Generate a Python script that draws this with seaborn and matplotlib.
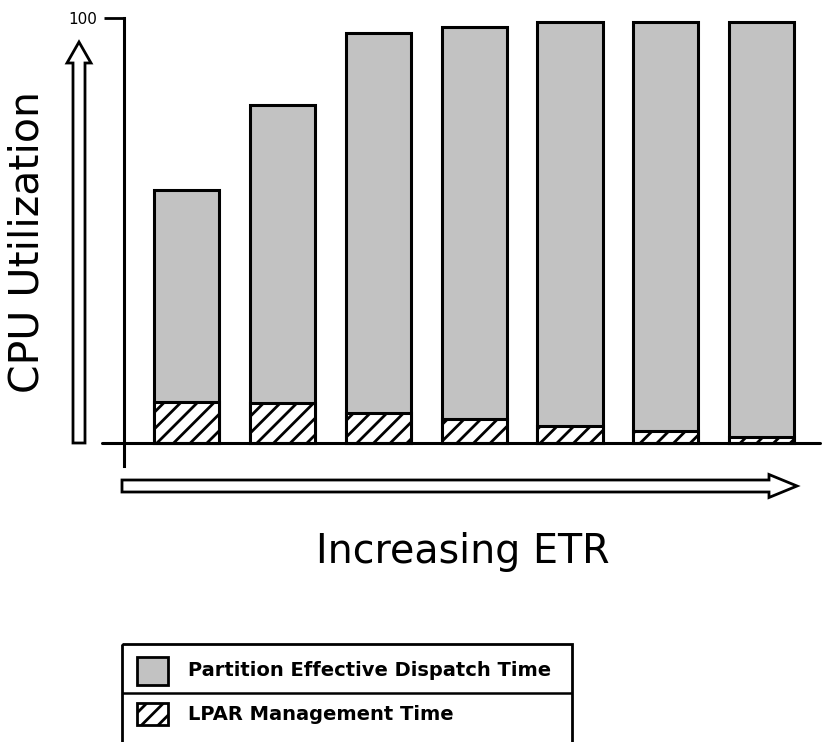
import matplotlib
matplotlib.use("Agg")
import matplotlib.pyplot as plt
from matplotlib.patches import FancyArrow, Rectangle
import seaborn as sns
import pandas as pd

# ---- data ----
categories = ["1", "2", "3", "4", "5", "6", "7"]
lpar_mgmt = [9.6, 9.4, 7.0, 5.6, 4.1, 2.9, 1.5]
dispatch = [49.9, 70.1, 89.5, 92.3, 94.9, 96.1, 97.5]
series_names = ["Partition Effective Dispatch Time", "LPAR Management Time"]
y_ticks = [100]
y_label = "CPU Utilization"
x_label = "Increasing ETR"

total = [a + b for a, b in zip(lpar_mgmt, dispatch)]
df = pd.DataFrame({"cat": categories, "total": total, "mgmt": lpar_mgmt})

sns.set_theme(style="white")
plt.rcParams["font.family"] = ["DejaVu Sans"]
plt.rcParams["hatch.linewidth"] = 2.0

GRAY = "#c2c2c2"
W, H = 822, 742
fig = plt.figure(figsize=(W / 100, H / 100), dpi=100)
fig.patch.set_facecolor("white")

ax = fig.add_axes([124 / W, (H - 466) / H, (820 - 124) / W, (466 - 18) / H])
ax.set_facecolor("white")

sns.barplot(data=df, x="cat", y="total", color=GRAY, edgecolor="black",
            linewidth=2.2, width=0.68, saturation=1, ax=ax)
sns.barplot(data=df, x="cat", y="mgmt", color="white", edgecolor="black",
            linewidth=2.2, width=0.68, saturation=1, hatch="//", ax=ax)

ax.set_ylim(-(466 - 443) / 4.25, 100)
ax.set_xlim(-0.656, 6.61)
ax.set_xlabel("")
ax.set_ylabel("")
ax.set_xticks([])
ax.set_yticks(y_ticks)
ax.set_yticklabels([str(t) for t in y_ticks])
ax.tick_params(axis="y", length=14.4, width=2, labelsize=11, pad=5,
               left=True, colors="black")
for s in ["top", "right", "bottom"]:
    ax.spines[s].set_visible(False)
ax.spines["left"].set_linewidth(2.2)
ax.spines["left"].set_color("black")
# baseline extending a little left of the y axis
ax.plot([-(124 - 102) / 696, 1], [0, 0], transform=ax.get_yaxis_transform(),
        color="black", lw=2.2, clip_on=False, zorder=5)

# arrows (in inches)
va = FancyArrow(0.79, (H - 443) / 100, 0, (443 - 42) / 100, width=0.12,
                head_width=0.24, head_length=0.21, length_includes_head=True,
                transform=fig.dpi_scale_trans, fc="white", ec="black", lw=2)
fig.add_artist(va)
ha_ = FancyArrow(1.22, (H - 486) / 100, (797 - 122) / 100, 0, width=0.12,
                 head_width=0.23, head_length=0.28, length_includes_head=True,
                 transform=fig.dpi_scale_trans, fc="white", ec="black", lw=2)
fig.add_artist(ha_)

fig.text(28 / W, 1 - 242 / H, y_label, rotation=90, ha="center", va="center",
         fontsize=29.5, color="black")
fig.text(463 / W, 1 - 563 / H, x_label, ha="center", va="baseline",
         fontsize=28.5, color="black")

# legend box
lax = fig.add_axes([122 / W, (H - 746) / H, 450 / W, 102 / H])
lax.set_xlim(0, 450)
lax.set_ylim(102, 0)
lax.axis("off")
lax.add_patch(Rectangle((0, 0), 450, 102, fill=False, ec="black", lw=2, clip_on=False))
lax.plot([0, 450], [49, 49], color="black", lw=1.8)
lax.add_patch(Rectangle((15, 13), 31, 28, fc=GRAY, ec="black", lw=2))
lax.add_patch(Rectangle((15, 59), 31, 22, fc="white", ec="black", lw=2, hatch="//"))
lax.text(66, 27, series_names[0], va="center", ha="left", fontsize=14,
         fontweight="bold", color="black")
lax.text(66, 70, series_names[1], va="center", ha="left", fontsize=14,
         fontweight="bold", color="black")

fig.savefig("out.png", dpi=100)
